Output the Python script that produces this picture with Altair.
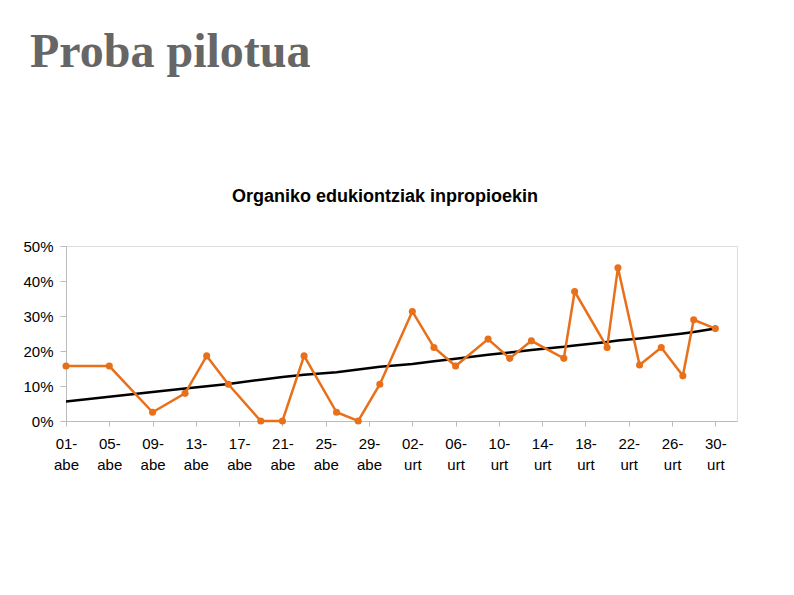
import altair as alt
import pandas as pd

# Data
dates = [
    "2012-12-01", "2012-12-05", "2012-12-09", "2012-12-12", "2012-12-14",
    "2012-12-16", "2012-12-19", "2012-12-21", "2012-12-23", "2012-12-26",
    "2012-12-28", "2012-12-30", "2013-01-02", "2013-01-04", "2013-01-06",
    "2013-01-09", "2013-01-11", "2013-01-13", "2013-01-16", "2013-01-17",
    "2013-01-20", "2013-01-21", "2013-01-23", "2013-01-25", "2013-01-27",
    "2013-01-28", "2013-01-30",
]
values = [
    0.157, 0.157, 0.025, 0.079, 0.186,
    0.105, 0.0, 0.0, 0.186, 0.025,
    0.0, 0.105, 0.313, 0.210, 0.157,
    0.234, 0.179, 0.229, 0.179, 0.370,
    0.210, 0.438, 0.160, 0.210, 0.129,
    0.289, 0.264,
]
trend = [
    0.056, 0.069, 0.083, 0.093, 0.099,
    0.106, 0.118, 0.126, 0.132, 0.139,
    0.147, 0.155, 0.163, 0.171, 0.178,
    0.189, 0.196, 0.203, 0.212, 0.216,
    0.226, 0.230, 0.236, 0.243, 0.250,
    0.254, 0.264,
]
tick_days = [(2012, 12, d) for d in range(1, 32, 4)] + [(2013, 1, d) for d in range(2, 31, 4)]
y_ticks = [0, 0.1, 0.2, 0.3, 0.4, 0.5]
main_title = "Proba pilotua"
chart_title = "Organiko edukiontziak inpropioekin"

df = pd.DataFrame({"date": dates, "value": values, "trend": trend})

W, H = 671, 175
orange = "#E8701A"
grey = "#BBBBBB"

x_axis = alt.Axis(
    title=None,
    values=[alt.DateTime(year=y, month=m, date=d, utc=True) for (y, m, d) in tick_days],
    labelExpr="[utcFormat(datum.value, '%d') + '-', utcmonth(datum.value) == 11 ? 'abe' : 'urt']",
    labelFont="Liberation Sans", labelFontSize=15, labelColor="#000000",
    labelLineHeight=21, labelPadding=10, labelAngle=0, labelBaseline="top",
    labelFlush=False, labelOverlap=False,
    tickSize=5, tickColor=grey, domainColor=grey, grid=False,
)
y_axis = alt.Axis(
    title=None, values=y_ticks, format=".0%",
    labelFont="Liberation Sans", labelFontSize=15, labelColor="#000000",
    labelPadding=7, tickSize=6, tickColor=grey, domainColor=grey, grid=False,
)

x_enc = alt.X(
    "date:T",
    scale=alt.Scale(
        type="utc",
        domain=[alt.DateTime(year=2012, month=12, date=1, utc=True),
                alt.DateTime(year=2013, month=2, date=1, utc=True)],
    ),
    axis=x_axis,
)
y_scale = alt.Scale(domain=[0, 0.5])

base = alt.Chart(df)

trend_line = base.mark_line(color="#000000", strokeWidth=2.5).encode(
    x=x_enc, y=alt.Y("trend:Q", scale=y_scale, axis=y_axis)
)
data_line = base.mark_line(color=orange, strokeWidth=2.5).encode(
    x=x_enc, y=alt.Y("value:Q", scale=y_scale, axis=y_axis)
)
data_points = base.mark_circle(color=orange, size=50, opacity=1).encode(
    x=x_enc, y=alt.Y("value:Q", scale=y_scale, axis=y_axis)
)

big_title = alt.Chart(pd.DataFrame({"t": [main_title]})).mark_text(
    font="Liberation Serif", fontSize=48, fontWeight="bold", color="#666666",
    align="left", baseline="alphabetic",
).encode(x=alt.value(-36), y=alt.value(-179), text="t:N")

sub_title = alt.Chart(pd.DataFrame({"t": [chart_title]})).mark_text(
    font="Liberation Sans", fontSize=18, fontWeight="bold", color="#000000",
    align="center", baseline="alphabetic",
).encode(x=alt.value(319), y=alt.value(-44), text="t:N")

chart = alt.layer(trend_line, data_line, data_points, big_title, sub_title).properties(
    width=W, height=H,
    autosize=alt.AutoSizeParams(type="none"),
    padding={"left": 58, "top": 238, "right": 45, "bottom": 120},
).configure_view(stroke=grey, strokeWidth=1).configure(background="white")

chart.save("out.html", embed_options={"renderer": "svg", "actions": False})
